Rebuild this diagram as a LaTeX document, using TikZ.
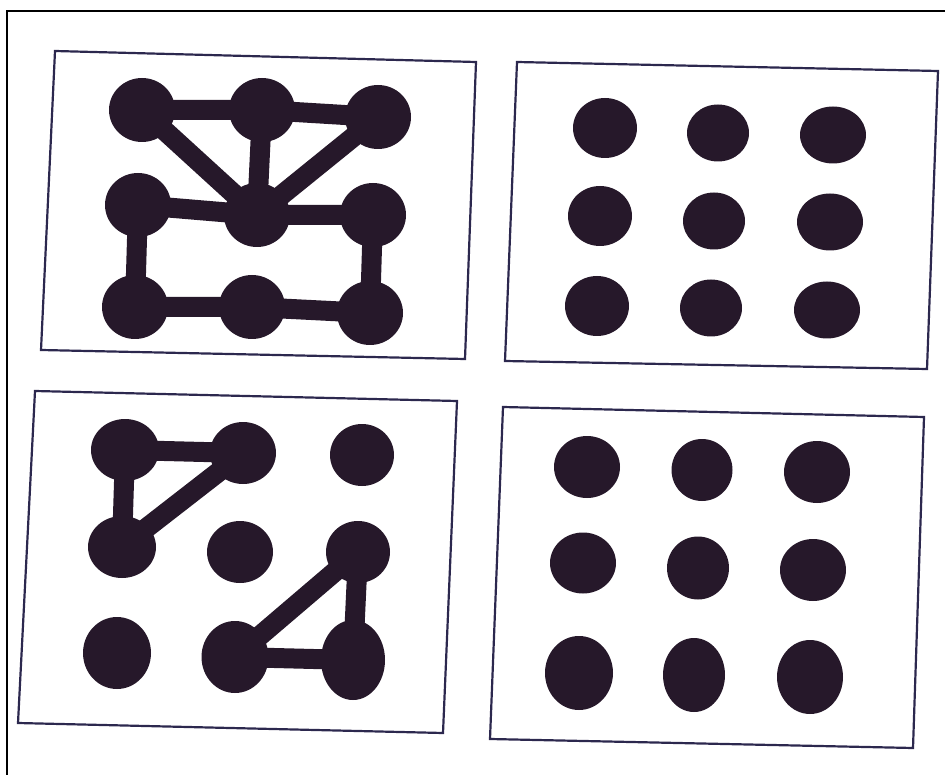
\documentclass[tikz,border=0pt]{standalone}
\usetikzlibrary{shapes.geometric}
\definecolor{inkdot}{RGB}{38,24,42}
\definecolor{inkline}{RGB}{44,40,78}
\tikzset{
  dot/.style={ellipse, fill=inkdot, inner sep=0pt, minimum width=64pt, minimum height=60pt},
  link/.style={draw=inkdot, line width=20pt},
  panel/.style={draw=inkline, line width=2.2pt},
}
\begin{document}
\begin{tikzpicture}[x=1pt,y=1pt,yscale=-1,xscale=1]
\useasboundingbox (0,0) rectangle (945,775);

%Outer frame
\draw [line width=1.6pt] (7,775) -- (7,11) -- (945,11) ;

%Panels
\draw [panel] (55,51) -- (476,62) -- (465,359) -- (41,350) -- cycle ;
\draw [panel] (517,62) -- (938,71) -- (927,369) -- (505,361) -- cycle ;
\draw [panel] (35,391) -- (457,401) -- (443,733) -- (18,723) -- cycle ;
\draw [panel] (503,407) -- (924,417) -- (913,748) -- (490,739) -- cycle ;

%Top left: connected grid
\node [dot, minimum width=66pt, minimum height=64pt] (a1) at (142,110) {};
\node [dot, minimum width=66pt, minimum height=64pt] (a2) at (262,110) {};
\node [dot, minimum width=66pt, minimum height=64pt] (a3) at (378,117) {};
\node [dot, minimum width=66pt, minimum height=64pt] (a4) at (138,205) {};
\node [dot, minimum width=66pt, minimum height=64pt] (a5) at (257,215) {};
\node [dot, minimum width=66pt, minimum height=64pt] (a6) at (373,215) {};
\node [dot, minimum width=66pt, minimum height=64pt] (a7) at (135,307) {};
\node [dot, minimum width=66pt, minimum height=64pt] (a8) at (252,307) {};
\node [dot, minimum width=66pt, minimum height=64pt] (a9) at (370,313) {};
\draw [link] (a1.center) -- (a2.center) -- (a3.center) ;
\draw [link] (a1.center) -- (a5.center) ;
\draw [link] (a2.center) -- (a5.center) ;
\draw [link] (a3.center) -- (a5.center) ;
\draw [link] (a4.center) -- (a5.center) -- (a6.center) ;
\draw [link] (a4.center) -- (a7.center) ;
\draw [link] (a6.center) -- (a9.center) ;
\draw [link] (a7.center) -- (a8.center) -- (a9.center) ;

%Top right: loose dots
\node [dot] (b1) at (605,128) {};
\node [dot, minimum width=62pt, minimum height=57pt] (b2) at (718,133) {};
\node [dot, minimum width=66pt, minimum height=57pt] (b3) at (833,135) {};
\node [dot] (b4) at (600,216) {};
\node [dot, minimum width=62pt, minimum height=57pt] (b5) at (714,221) {};
\node [dot, minimum width=66pt, minimum height=57pt] (b6) at (830,222) {};
\node [dot] (b7) at (597,306) {};
\node [dot, minimum width=62pt, minimum height=57pt] (b8) at (711,308) {};
\node [dot, minimum width=66pt, minimum height=57pt] (b9) at (827,310) {};

%Bottom left: two triangles
\node [dot, minimum width=68pt, minimum height=62pt] (c1) at (125,450) {};
\node [dot, minimum width=66pt, minimum height=62pt] (c2) at (243,453) {};
\node [dot, minimum width=64pt, minimum height=62pt] (c3) at (362,455) {};
\node [dot, minimum width=68pt, minimum height=62pt] (c4) at (122,547) {};
\node [dot, minimum width=66pt, minimum height=62pt] (c5) at (240,552) {};
\node [dot, minimum width=64pt, minimum height=62pt] (c6) at (358,552) {};
\node [dot, minimum width=68pt, minimum height=72pt] (c7) at (117,653) {};
\node [dot, minimum width=67pt, minimum height=72pt] (c8) at (235,657) {};
\node [dot, minimum width=64pt, minimum height=80pt] (c9) at (353,660) {};
\draw [link] (c1.center) -- (c2.center) ;
\draw [link] (c1.center) -- (c4.center) ;
\draw [link] (c2.center) -- (c4.center) ;
\draw [link] (c6.center) -- (c8.center) ;
\draw [link] (c6.center) -- (c9.center) ;
\draw [link] (c8.center) -- (c9.center) ;

%Bottom right: loose dots
\node [dot, minimum width=66pt, minimum height=62pt] (d1) at (587,467) {};
\node [dot, minimum width=61pt, minimum height=62pt] (d2) at (702,470) {};
\node [dot, minimum width=66pt, minimum height=62pt] (d3) at (817,472) {};
\node [dot, minimum width=66pt, minimum height=61pt] (d4) at (583,563) {};
\node [dot, minimum width=62pt, minimum height=63pt] (d5) at (698,568) {};
\node [dot, minimum width=66pt, minimum height=62pt] (d6) at (813,570) {};
\node [dot, minimum width=68pt, minimum height=74pt] (d7) at (579,673) {};
\node [dot, minimum width=62pt, minimum height=74pt] (d8) at (694,675) {};
\node [dot, minimum width=66pt, minimum height=74pt] (d9) at (810,677) {};
\end{tikzpicture}
\end{document}
